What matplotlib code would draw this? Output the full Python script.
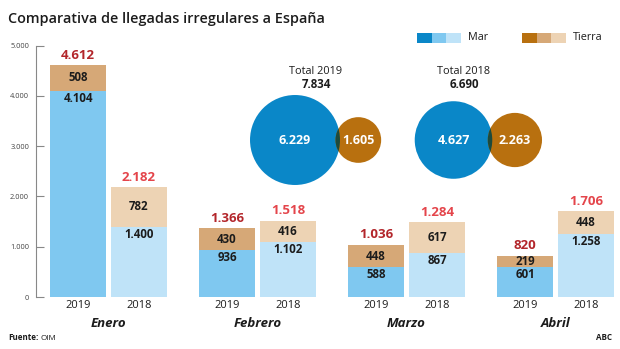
import matplotlib
matplotlib.use("Agg")
import matplotlib.pyplot as plt
from matplotlib.patches import Circle, Rectangle
import numpy as np

plt.rcParams['font.family'] = ['Open Sans', 'DejaVu Sans']

months = ["Enero", "Febrero", "Marzo", "Abril"]
years = ["2019", "2018"]
mar_2019 = [4104, 936, 588, 601]
tierra_2019 = [508, 430, 448, 219]
total_2019 = [4612, 1366, 1036, 820]
mar_2018 = [1400, 1102, 867, 1258]
tierra_2018 = [782, 416, 617, 448]
total_2018 = [2182, 1518, 1284, 1706]
yticks = [0, 1000, 2000, 3000, 4000, 5000]

sum_mar = {"2019": 6229, "2018": 4627}
sum_tierra = {"2019": 1605, "2018": 2263}
sum_total = {"2019": 7834, "2018": 6690}

def fmt(v):
    return f"{v:,}".replace(",", ".")

W, H = 620, 349
fig = plt.figure(figsize=(W / 100, H / 100), dpi=100)
fig.patch.set_facecolor("white")

ax_left, ax_right, ax_bot, ax_top = 36, 620, 297, 45.7
ax = fig.add_axes([ax_left / W, (H - ax_bot) / H, (ax_right - ax_left) / W, (ax_bot - ax_top) / H])
ax.set_xlim(ax_left, ax_right)
ax.set_ylim(0, 5000)
ax.patch.set_alpha(0)

c_mar19, c_mar18 = "#7fc8f0", "#bfe3f8"
c_tie19, c_tie18 = "#d6a877", "#edd3b4"
c_tot19, c_tot18 = "#b3262b", "#e4454b"
c_txt = "#1c1c1c"

group_c = 108.5
group_step = 149
half_off = 30.5
bw = 56

for i in range(len(months)):
    gc = group_c + group_step * i
    for yi, (mar, tie, tot, cm, ct, ctot) in enumerate([
        (mar_2019[i], tierra_2019[i], total_2019[i], c_mar19, c_tie19, c_tot19),
        (mar_2018[i], tierra_2018[i], total_2018[i], c_mar18, c_tie18, c_tot18)]):
        x = gc + (-half_off if yi == 0 else half_off)
        ax.bar(x, mar, width=bw, color=cm, linewidth=0)
        ax.bar(x, tie, width=bw, bottom=mar, color=ct, linewidth=0)
        ax.annotate(fmt(mar), (x, mar), xytext=(0, -7.5), textcoords="offset pixels",
                    ha="center", va="center", fontsize=8.3, fontweight="bold", color=c_txt)
        ax.text(x, mar + tie / 2, fmt(tie), ha="center", va="center",
                fontsize=8.3, fontweight="bold", color=c_txt)
        ax.annotate(fmt(tot), (x, mar + tie), xytext=(0, 10), textcoords="offset pixels",
                    ha="center", va="center", fontsize=9.5, fontweight="bold", color=ctot)

ax.set_xticks([])
ax.set_yticks(yticks)
ax.set_yticklabels([fmt(v) for v in yticks], fontsize=5.3, color="#444444")
ax.tick_params(axis="y", direction="in", length=6, width=0.8, color="#888888", pad=5)
for s in ["top", "right", "bottom"]:
    ax.spines[s].set_visible(False)
ax.spines["left"].set_color("#888888")
ax.spines["left"].set_linewidth(0.8)

ov = fig.add_axes([0, 0, 1, 1])
ov.set_xlim(0, W)
ov.set_ylim(H, 0)
ov.axis("off")
ov.patch.set_alpha(0)

for i, m in enumerate(months):
    gc = group_c + group_step * i
    ov.text(gc - half_off, 305, years[0], ha="center", va="center", fontsize=8, color=c_txt)
    ov.text(gc + half_off, 305, years[1], ha="center", va="center", fontsize=8, color=c_txt)
    ov.text(gc, 323.5, m, ha="center", va="center", fontsize=9.5, fontweight="bold",
            style="italic", color=c_txt)

ov.text(8, 19, "Comparativa de llegadas irregulares a España", ha="left", va="center",
        fontsize=10.4, fontweight="semibold", color="#1c1c1c")

leg_mar = ["#0a87c8", "#7fc8f0", "#bfe3f8"]
leg_tie = ["#b8700f", "#d6a877", "#edd3b4"]
for k in range(3):
    ov.add_patch(Rectangle((417 + k * 14.5, 33), 14.5, 10, color=leg_mar[k], lw=0))
    ov.add_patch(Rectangle((522 + k * 14.5, 33), 14.5, 10, color=leg_tie[k], lw=0))
ov.text(468, 38, "Mar", ha="left", va="center", fontsize=7.8, color=c_txt)
ov.text(573, 38, "Tierra", ha="left", va="center", fontsize=7.8, color=c_txt)

k_r = 0.570
c_blue, c_brown, c_dark = "#0a87c8", "#b8700f", "#1d4a3c"
circ_specs = [("2019", 295, 140, 316), ("2018", 453.5, 140, 464)]
for yr, cx, cy, tx in circ_specs:
    r1 = k_r * np.sqrt(sum_mar[yr])
    r2 = k_r * np.sqrt(sum_tierra[yr])
    overlap = 4.5
    cx2 = cx + r1 + r2 - overlap
    big = Circle((cx, cy), r1, color=c_blue, lw=0)
    small = Circle((cx2, cy), r2, color=c_brown, lw=0)
    ov.add_patch(big)
    ov.add_patch(small)
    lens = Circle((cx2, cy), r2, color=c_dark, lw=0)
    ov.add_patch(lens)
    clip = Circle((cx, cy), r1, transform=ov.transData)
    lens.set_clip_path(clip)
    ov.text(cx, cy, fmt(sum_mar[yr]), ha="center", va="center", fontsize=9,
            fontweight="bold", color="white")
    ov.text(cx2, cy, fmt(sum_tierra[yr]), ha="center", va="center", fontsize=9,
            fontweight="bold", color="white")
    ov.text(tx, 71, "Total " + yr, ha="center", va="center", fontsize=7.8, color=c_txt)
    ov.text(tx, 84.5, fmt(sum_total[yr]), ha="center", va="center", fontsize=8.3,
            fontweight="bold", color=c_txt)

t = ov.text(8, 337, "Fuente:", ha="left", va="center", fontsize=5.8, fontweight="bold", color=c_txt)
ov.annotate("OIM", xy=(1, 0), xycoords=t, xytext=(2.5, 0), textcoords="offset pixels",
            ha="left", va="bottom", fontsize=5.8, color=c_txt)
ov.text(612, 337, "ABC", ha="right", va="center", fontsize=5.8, fontweight="bold", color=c_txt)

fig.savefig("out.png", dpi=100, facecolor="white")
